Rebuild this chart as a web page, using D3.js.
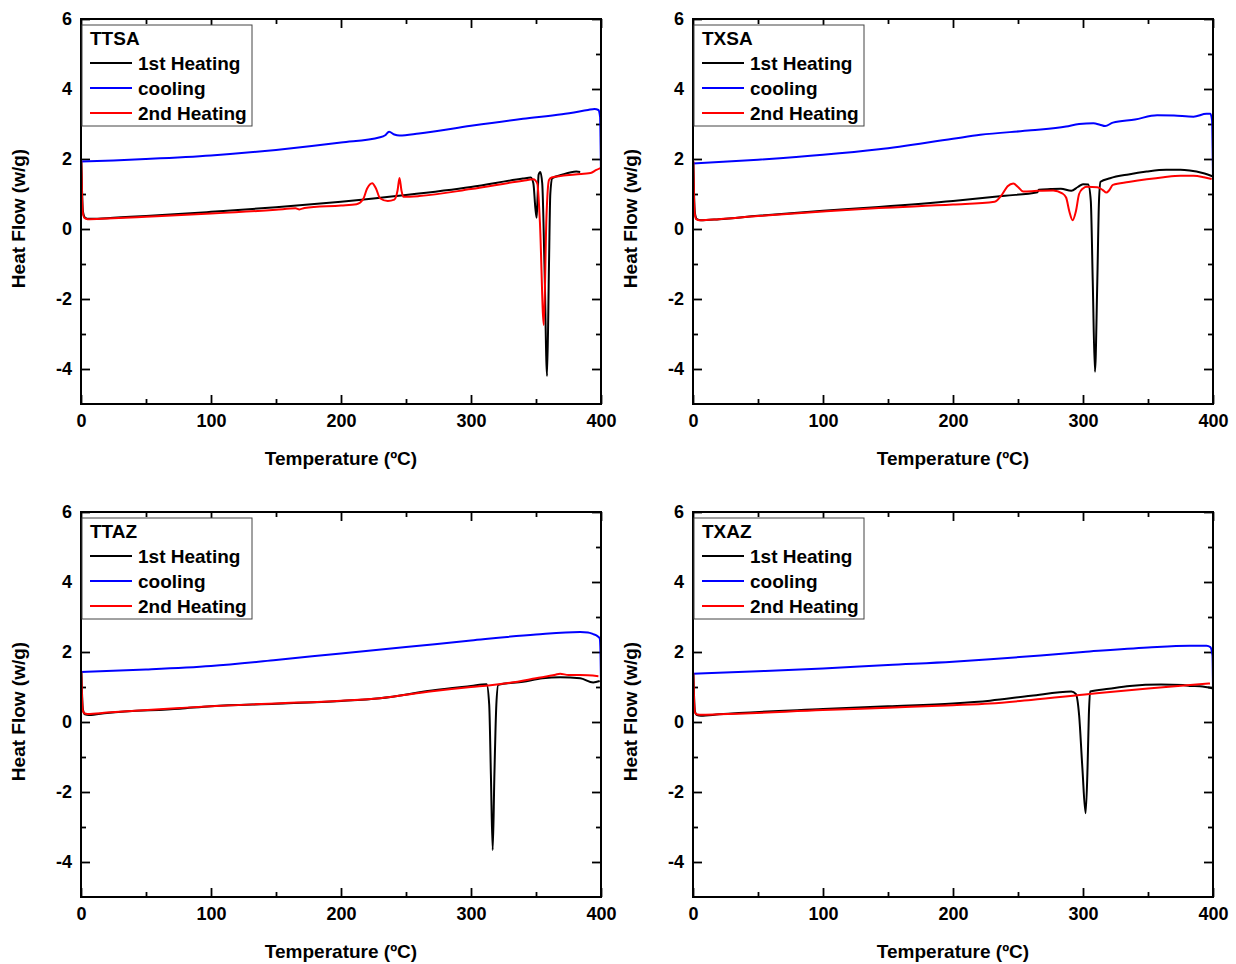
<!DOCTYPE html>
<html>
<head>
<meta charset="utf-8">
<script src="https://cdn.jsdelivr.net/npm/d3@7"></script>
<style>
  body { margin: 0; background: #fff; }
  svg text { font-family: "Liberation Sans", Arial, sans-serif; font-weight: bold; fill: #000; }
</style>
</head>
<body>
<svg id="chart" width="1236" height="964"></svg>
<script>
// sample names and series labels
const sampleNames = ["TTSA", "TXSA", "TTAZ", "TXAZ"];
const seriesNames = ["1st Heating", "cooling", "2nd Heating"];
const seriesColors = ["#000000", "#0000ff", "#ff0000"];

// tick values
const xMajor = [0, 100, 200, 300, 400];
const xMinor = [50, 150, 250, 350];
const yMajor = [-4, -2, 0, 2, 4, 6];
const yMinor = [-3, -1, 1, 3, 5];

// [temperature °C, heat flow w/g]
const ttsaHeat1 = [[0.3,1.92],[0.8,1.1],[1.5,0.5],[3,0.33],[6,0.29],[20,0.31],[50,0.37],[100,0.49],[150,0.62],[200,0.78],[250,0.97],[300,1.2],[340,1.44],[346,1.47],[348,1.3],[349.5,0.6],[350.5,0.32],[351.2,0.9],[352,1.55],[353.3,1.63],[354.8,1.3],[356.5,-1],[358.5,-4.2],[360,-1],[361,1.0],[362.5,1.45],[370,1.55],[381,1.64],[384,1.63]];
const ttsaCool = [[0,1.93],[25,1.96],[50,2.0],[100,2.1],[150,2.26],[200,2.47],[230,2.62],[234,2.68],[237,2.78],[241,2.7],[245,2.67],[260,2.73],[300,2.95],[340,3.15],[370,3.28],[390,3.4],[395,3.43],[398,3.4],[399.3,3.2],[399.7,2.4],[400,1.6]];
const ttsaHeat2 = [[0.2,1.95],[0.7,1.1],[1.3,0.5],[2.5,0.32],[5,0.28],[20,0.3],[50,0.35],[100,0.44],[150,0.55],[165,0.59],[168,0.56],[172,0.6],[200,0.67],[212,0.71],[217,0.85],[220,1.15],[224,1.31],[227,1.15],[230,0.88],[236,0.8],[241,0.84],[243.5,1.1],[245,1.46],[246.5,1.1],[248,0.92],[260,0.94],[300,1.14],[340,1.38],[348,1.42],[351,1.3],[353,0.2],[356,-2.74],[358,0.3],[360,1.4],[362,1.47],[380,1.56],[392,1.6],[396,1.68],[400,1.75]];

const txsaHeat1 = [[0.3,1.92],[0.8,1.0],[1.5,0.45],[3,0.28],[6,0.25],[20,0.28],[50,0.38],[100,0.52],[143,0.63],[200,0.8],[240,0.95],[265,1.05],[266,1.12],[275,1.14],[283,1.15],[291,1.09],[296,1.2],[300,1.28],[304,1.27],[306,0.8],[307.5,-1.5],[309.2,-4.08],[311,-1.5],[312.3,0.8],[313.5,1.35],[320.8,1.45],[335,1.56],[349,1.64],[364,1.69],[375,1.69],[382,1.67],[392,1.6],[400,1.5]];
const txsaCool = [[0,1.87],[50,1.98],[100,2.12],[143,2.28],[200,2.58],[221,2.69],[260,2.82],[287,2.93],[297,3.0],[308,3.02],[313,2.98],[317,2.94],[323,3.04],[340,3.13],[357,3.25],[370,3.24],[385,3.21],[395,3.29],[398,3.29],[399.3,3.1],[399.7,2.3],[400,1.5]];
const txsaHeat2 = [[0.2,1.95],[0.7,1.0],[1.3,0.45],[2.5,0.28],[5,0.25],[20,0.28],[50,0.37],[100,0.5],[143,0.6],[200,0.7],[232,0.78],[238,1.0],[242,1.22],[246.4,1.3],[250,1.2],[254,1.07],[265,1.09],[277,1.1],[284,1.02],[287,0.9],[289.5,0.5],[292,0.25],[294.5,0.5],[297,1.0],[300,1.16],[303,1.21],[311,1.19],[315,1.12],[318,1.04],[320,1.1],[323,1.26],[335,1.34],[349,1.42],[362,1.48],[375,1.52],[385,1.52],[393,1.48],[399,1.43]];

const ttazHeat1 = [[0.3,1.45],[0.8,0.8],[1.5,0.35],[3,0.22],[6,0.2],[20,0.26],[76,0.38],[100,0.45],[150,0.52],[200,0.6],[230,0.68],[270,0.9],[300,1.03],[312,1.08],[314,0.5],[315.3,-1.5],[316.7,-3.66],[318,-1.5],[319.5,0.5],[321,1.06],[340,1.15],[355,1.25],[368.5,1.28],[384,1.25],[394,1.13],[399,1.17]];
const ttazCool = [[0,1.43],[50,1.5],[100,1.6],[150,1.77],[200,1.96],[250,2.14],[300,2.33],[350,2.5],[384,2.57],[390,2.56],[394,2.51],[397,2.46],[399,2.39],[399.6,2.0],[400,1.15]];
const ttazHeat2 = [[0.2,1.45],[0.7,0.8],[1.3,0.35],[2.5,0.25],[5,0.23],[20,0.27],[76,0.4],[100,0.45],[150,0.53],[200,0.61],[230,0.68],[270,0.88],[300,1.0],[315,1.05],[330,1.12],[350,1.25],[365,1.35],[368.5,1.38],[375,1.34],[384,1.34],[398,1.31]];

const txazHeat1 = [[0.3,1.4],[0.8,0.75],[1.5,0.3],[3,0.2],[6,0.18],[20,0.22],[100,0.37],[150,0.45],[200,0.53],[228.5,0.61],[260,0.75],[291,0.87],[294.5,0.8],[297,0.2],[299.5,-1.3],[302,-2.61],[303.5,-1.3],[304.5,0.2],[305.5,0.87],[320,0.95],[336,1.03],[360,1.07],[377,1.06],[382,1.03],[390,1.02],[400,0.96]];
const txazCool = [[0,1.38],[50,1.45],[100,1.53],[150,1.63],[200,1.72],[228.5,1.79],[300,2.0],[350,2.13],[382,2.18],[395,2.18],[398,2.14],[399.6,1.9],[400,0.96]];
const txazHeat2 = [[0.2,1.4],[0.7,0.75],[1.3,0.3],[2.5,0.22],[5,0.21],[20,0.22],[100,0.34],[150,0.41],[200,0.48],[228.5,0.53],[260,0.63],[305,0.8],[350,0.96],[380,1.05],[397.7,1.1]];

const panelSeries = [
  [ttsaHeat1, ttsaCool, ttsaHeat2],
  [txsaHeat1, txsaCool, txsaHeat2],
  [ttazHeat1, ttazCool, ttazHeat2],
  [txazHeat1, txazCool, txazHeat2],
];

const W = 520, H = 385;
const origins = [[81, 19], [693, 19], [81, 512], [693, 512]];

const x = d3.scaleLinear().domain([0, 400]).range([0, W]);
const y = d3.scaleLinear().domain([-5, 6]).range([H, 0]);

const line = d3.line()
  .x((d) => x(d[0]))
  .y((d) => y(d[1]))
  .curve(d3.curveMonotoneX);

const svg = d3.select("#chart");

function styleAxis(g) {
  g.select(".domain").remove();
  g.selectAll("line").attr("stroke", "#000").attr("stroke-width", 1.8);
  g.selectAll("text").style("font-size", "18px");
}

sampleNames.forEach((name, i) => {
  const g = svg.append("g").attr("transform", `translate(${origins[i][0]},${origins[i][1]})`);

  // ticks (all inward)
  g.append("g").attr("transform", `translate(0,${H})`)
    .call(d3.axisBottom(x).tickValues(xMajor).tickSizeInner(-9).tickSizeOuter(0).tickPadding(10).tickFormat((d) => String(d)))
    .call(styleAxis);
  g.append("g").attr("transform", `translate(0,${H})`)
    .call(d3.axisBottom(x).tickValues(xMinor).tickSizeInner(-5).tickSizeOuter(0).tickFormat(""))
    .call(styleAxis);
  g.append("g")
    .call(d3.axisTop(x).tickValues(xMajor).tickSizeInner(-9).tickSizeOuter(0).tickFormat(""))
    .call(styleAxis);
  g.append("g")
    .call(d3.axisTop(x).tickValues(xMinor).tickSizeInner(-5).tickSizeOuter(0).tickFormat(""))
    .call(styleAxis);
  g.append("g")
    .call(d3.axisLeft(y).tickValues(yMajor).tickSizeInner(-9).tickSizeOuter(0).tickPadding(9).tickFormat((d) => String(d)))
    .call(styleAxis);
  g.append("g")
    .call(d3.axisLeft(y).tickValues(yMinor).tickSizeInner(-5).tickSizeOuter(0).tickFormat(""))
    .call(styleAxis);
  g.append("g").attr("transform", `translate(${W},0)`)
    .call(d3.axisRight(y).tickValues(yMajor).tickSizeInner(-9).tickSizeOuter(0).tickFormat(""))
    .call(styleAxis);
  g.append("g").attr("transform", `translate(${W},0)`)
    .call(d3.axisRight(y).tickValues(yMinor).tickSizeInner(-5).tickSizeOuter(0).tickFormat(""))
    .call(styleAxis);

  // curves
  panelSeries[i].forEach((data, k) => {
    g.append("path")
      .datum(data)
      .attr("fill", "none")
      .attr("stroke", seriesColors[k])
      .attr("stroke-width", 2)
      .attr("stroke-linejoin", "round")
      .attr("d", line);
  });

  // frame
  g.append("rect")
    .attr("width", W)
    .attr("height", H)
    .attr("fill", "none")
    .attr("stroke", "#000")
    .attr("stroke-width", 2);

  // legend
  const lg = g.append("g").attr("transform", "translate(1,6)");
  lg.append("rect")
    .attr("width", 170)
    .attr("height", 101)
    .attr("fill", "#fff")
    .attr("stroke", "#444")
    .attr("stroke-width", 1);
  lg.append("text").attr("x", 8).attr("y", 20).style("font-size", "19px").text(name);
  seriesNames.forEach((s, k) => {
    const ly = 38 + k * 25;
    lg.append("line")
      .attr("x1", 8).attr("x2", 50)
      .attr("y1", ly).attr("y2", ly)
      .attr("stroke", seriesColors[k])
      .attr("stroke-width", 2);
    lg.append("text").attr("x", 56).attr("y", ly + 7).style("font-size", "19px").text(s);
  });

  // axis titles
  g.append("text")
    .attr("x", W / 2)
    .attr("y", H + 61)
    .attr("text-anchor", "middle")
    .style("font-size", "19px")
    .text("Temperature (ºC)");
  g.append("text")
    .attr("transform", `translate(-56,${H / 2 + 7}) rotate(-90)`)
    .attr("text-anchor", "middle")
    .style("font-size", "19px")
    .text("Heat Flow (w/g)");
});
</script>
</body>
</html>
